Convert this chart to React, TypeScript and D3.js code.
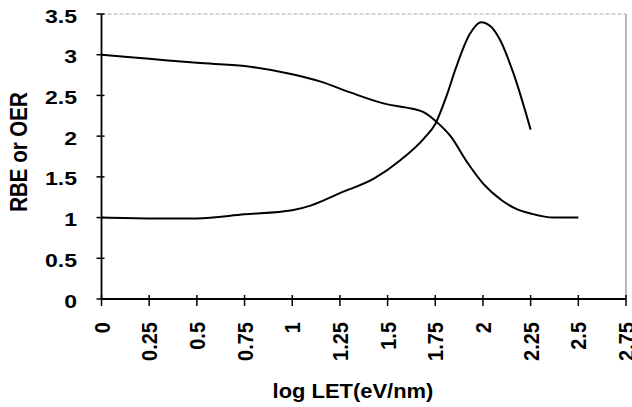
import React from "react";
import * as d3 from "d3";

const oerX = [0, 0.25, 0.5, 0.75, 1.0, 1.15, 1.3, 1.5, 1.6, 1.7, 1.75, 1.83, 1.92, 2.0, 2.1, 2.18, 2.25, 2.37, 2.5];
const oerY = [3.0, 2.95, 2.9, 2.86, 2.76, 2.67, 2.54, 2.39, 2.35, 2.28, 2.19, 2.0, 1.67, 1.42, 1.21, 1.1, 1.05, 1.0, 1.0];

const rbeX = [0, 0.25, 0.5, 0.75, 1.0, 1.1, 1.25, 1.43, 1.57, 1.69, 1.75, 1.81, 1.86, 1.93, 1.99, 2.04, 2.09, 2.16, 2.25];
const rbeY = [1.0, 0.99, 0.99, 1.04, 1.09, 1.15, 1.3, 1.48, 1.71, 1.97, 2.15, 2.5, 2.85, 3.25, 3.4, 3.35, 3.18, 2.77, 2.08];

const xTicks = [0, 0.25, 0.5, 0.75, 1, 1.25, 1.5, 1.75, 2, 2.25, 2.5, 2.75];
const yTicks = [0, 0.5, 1, 1.5, 2, 2.5, 3, 3.5];

const xTitle = "log LET(eV/nm)";
const yTitle = "RBE or OER";

const W = 632, H = 407;
const left = 101.5, right = 626, top = 14, bottom = 299;
const FONT = "'Liberation Sans', Arial, Helvetica, sans-serif";

export default function App() {
  const x = d3.scaleLinear().domain([0, 2.75]).range([left, right]);
  const y = d3.scaleLinear().domain([0, 3.5]).range([bottom, top]);
  const line = d3
    .line<[number, number]>()
    .x((d) => x(d[0]))
    .y((d) => y(d[1]))
    .curve(d3.curveMonotoneX);
  const oer: [number, number][] = oerX.map((v, i) => [v, oerY[i]]);
  const rbe: [number, number][] = rbeX.map((v, i) => [v, rbeY[i]]);

  return (
    <svg
      width={W}
      height={H}
      style={{ position: "absolute", left: 0, top: 0, background: "#fff" }}
      fontFamily={FONT}
    >
      <rect x={0} y={0} width={W} height={H} fill="#fff" />
      {/* frame top & right */}
      <line x1={left} x2={right} y1={top} y2={top} stroke="#aaa" strokeWidth={1} strokeDasharray="4,2" />
      <line x1={right} x2={right} y1={top} y2={bottom} stroke="#888" strokeWidth={1.2} />
      {/* axes */}
      <line x1={left} x2={left} y1={top} y2={bottom} stroke="#000" strokeWidth={1.8} />
      <line x1={left} x2={right} y1={bottom} y2={bottom} stroke="#000" strokeWidth={1.8} />
      {yTicks.map((t) => (
        <g key={"y" + t}>
          <line x1={left - 5} x2={left + 3} y1={y(t)} y2={y(t)} stroke="#000" strokeWidth={1.5} />
          <text
            transform={`translate(77,${y(t) + 8.5}) scale(1.28,1)`}
            textAnchor="end"
            fontSize={18}
            fontWeight="bold"
            fill="#000"
          >
            {String(t)}
          </text>
        </g>
      ))}
      {xTicks.map((t) => (
        <g key={"x" + t}>
          <line x1={x(t)} x2={x(t)} y1={bottom - 4} y2={bottom + 7} stroke="#000" strokeWidth={1.5} />
          <text
            transform={`translate(${x(t)},322) scale(1.12,1) rotate(-90)`}
            textAnchor="end"
            dy="0.36em"
            fontSize={20}
            fontWeight="bold"
            fill="#000"
          >
            {String(t)}
          </text>
        </g>
      ))}
      <path d={line(oer) || ""} fill="none" stroke="#000" strokeWidth={2} />
      <path d={line(rbe) || ""} fill="none" stroke="#000" strokeWidth={2} />
      <text
        transform={`translate(353,398) scale(1.07,1)`}
        textAnchor="middle"
        fontSize={20.5}
        fontWeight="bold"
        fill="#000"
      >
        {xTitle}
      </text>
      <text
        transform={`translate(27,152) scale(1.15,1) rotate(-90)`}
        textAnchor="middle"
        fontSize={20.5}
        fontWeight="bold"
        fill="#000"
      >
        {yTitle}
      </text>
    </svg>
  );
}
